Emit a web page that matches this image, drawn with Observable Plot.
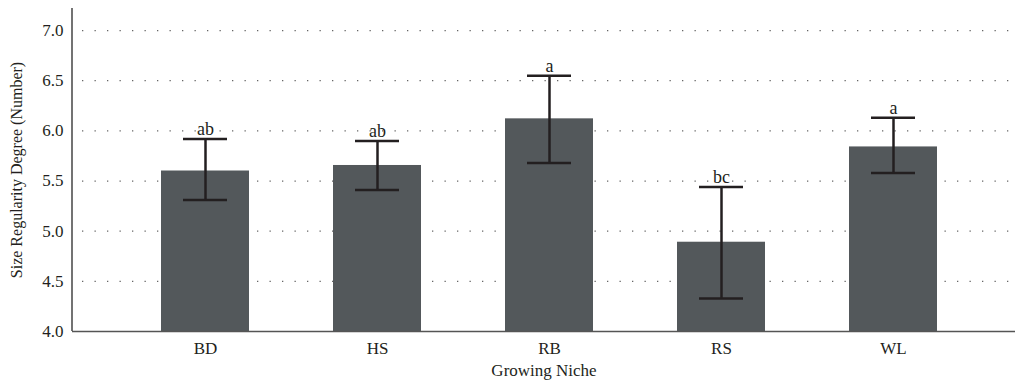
<!DOCTYPE html>
<html><head><meta charset="utf-8">
<script src="https://cdn.jsdelivr.net/npm/d3@7"></script>
<script src="https://cdn.jsdelivr.net/npm/@observablehq/plot@0.6"></script>
<style>
body{margin:0;background:#fff;}
svg, svg g, svg text {font-family: "Liberation Serif", "DejaVu Serif", serif !important;}
g[aria-label$="tick label"] text, g[aria-label$="tick label"],
g[aria-label="x-axis label"] text, g[aria-label="x-axis label"] {font-size: 17px !important; fill: #231f20 !important;}
g[aria-label="y-axis label"] text, g[aria-label="y-axis label"] {font-size: 16px !important; fill: #231f20 !important;}
</style>
</head><body><div id="chart"></div>
<script>
const niches = ["BD", "HS", "RB", "RS", "WL"];
const means = [5.60, 5.655, 6.12, 4.89, 5.84];
const lows = [5.31, 5.41, 5.68, 4.33, 5.58];
const highs = [5.92, 5.90, 6.55, 5.44, 6.13];
const letters = ["ab", "ab", "a", "bc", "a"];
const yTicks = [4.0, 4.5, 5.0, 5.5, 6.0, 6.5, 7.0];

const data = niches.map((n, i) => ({niche: n, mean: means[i], lo: lows[i], hi: highs[i], letter: letters[i]}));
const ink = "#231f20";
const yTop = 7.22;

function yAxisLine(index, scales, values, dimensions) {
  const g = d3.create("svg:g");
  g.append("line")
    .attr("x1", dimensions.marginLeft).attr("x2", dimensions.marginLeft)
    .attr("y1", scales.y(yTop)).attr("y2", scales.y(4))
    .attr("stroke", "#444").attr("stroke-width", 1.5);
  return g.node();
}

const chart = Plot.plot({
  width: 1015, height: 385,
  marginLeft: 72, marginRight: 0, marginTop: 8, marginBottom: 54,
  x: {domain: niches, range: [77, 1021], padding: 0.488, label: null},
  y: {domain: [4, yTop], label: null},
  marks: [
    Plot.gridY(yTicks.filter(t => t > 4), {stroke: "#666", strokeOpacity: 1, strokeWidth: 1.3, strokeDasharray: "1.3,11.2", strokeDashoffset: -10}),
    Plot.barY(data, {x: "niche", y1: 4, y2: "mean", fill: "#53585b"}),
    Plot.ruleX(data, {x: "niche", y1: "lo", y2: "hi", stroke: ink, strokeWidth: 2.5}),
    Plot.tickY(data, {x: "niche", y: "lo", stroke: ink, strokeWidth: 2.5, inset: 22}),
    Plot.tickY(data, {x: "niche", y: "hi", stroke: ink, strokeWidth: 2.5, inset: 22}),
    Plot.text(data, {x: "niche", y: "hi", text: "letter", dy: -4, lineAnchor: "bottom", fill: ink, fontSize: 18}),
    Plot.ruleY([4], {stroke: "#555", strokeWidth: 1.5}),
    yAxisLine,
    Plot.axisY({ticks: yTicks, tickFormat: d3.format(".1f"), tickSize: 0, tickPadding: 9, fontSize: 17, fill: ink, label: "Size Regularity Degree (Number)", labelAnchor: "center", labelArrow: "none", labelOffset: 62}),
    Plot.axisX({tickSize: 0, tickPadding: 10, fontSize: 17, fill: ink, label: "Growing Niche", labelAnchor: "center", labelArrow: "none", labelOffset: 44})
  ]
});
document.getElementById("chart").appendChild(chart);
</script>
</body></html>
